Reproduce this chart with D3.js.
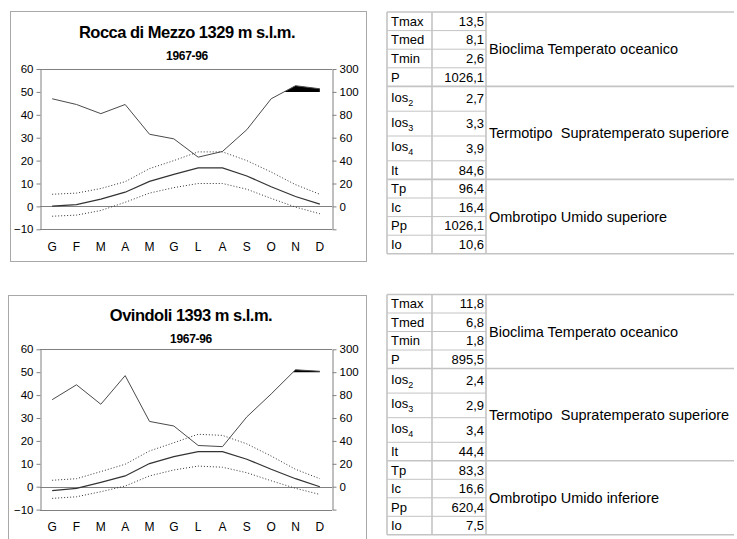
<!DOCTYPE html>
<html>
<head>
<meta charset="utf-8">
<script src="https://cdn.jsdelivr.net/npm/d3@7"></script>
<style>
  body { margin: 0; background: #fff; }
  svg { display: block; font-family: "Liberation Sans", Arial, sans-serif; }
</style>
</head>
<body>
<svg id="c" width="737" height="539"></svg>
<script>
// Months (Italian initials)
const months = ["G", "F", "M", "A", "M", "G", "L", "A", "S", "O", "N", "D"];
const tempTicks = [-10, 0, 10, 20, 30, 40, 50, 60];
const precTicks = [-20, 0, 20, 40, 60, 80, 100, 300];

// Rocca di Mezzo 1329 m s.l.m., 1967-96
const roccaPrec = [94, 89, 81, 89, 63, 59, 43, 48, 67, 94, 154, 127];
const roccaTmax = [5.3, 5.8, 7.8, 10.8, 16.5, 20.0, 23.8, 23.8, 20.0, 15.0, 9.5, 5.3];
const roccaTmed = [0.1, 0.8, 3.2, 6.2, 10.9, 14.0, 16.8, 16.8, 13.3, 8.6, 4.3, 1.0];
const roccaTmin = [-4.3, -3.8, -1.8, 1.8, 5.8, 8.2, 10.0, 10.0, 7.5, 3.5, -0.3, -3.2];

// Ovindoli 1393 m s.l.m., 1967-96
const ovindoliPrec = [76, 89, 72, 97, 57, 53, 36, 35, 61, 81, 121, 108];
const ovindoliTmax = [2.8, 3.5, 6.6, 9.8, 15.6, 19.2, 22.9, 22.4, 18.7, 13.4, 7.6, 3.5];
const ovindoliTmed = [-1.7, -0.7, 1.9, 4.7, 10.1, 13.1, 15.3, 15.3, 12.0, 7.6, 3.5, 0.0];
const ovindoliTmin = [-5.1, -4.4, -2.2, 0.3, 4.7, 7.3, 9.0, 8.5, 6.1, 2.6, -0.7, -3.4];

// Bioclimatic indices
const indexNames = ["Tmax", "Tmed", "Tmin", "P", "Ios2", "Ios3", "Ios4", "It", "Tp", "Ic", "Pp", "Io"];
const roccaIndex = [13.5, 8.1, 2.6, 1026.1, 2.7, 3.3, 3.9, 84.6, 96.4, 16.4, 1026.1, 10.6];
const ovindoliIndex = [11.8, 6.8, 1.8, 895.5, 2.4, 2.9, 3.4, 44.4, 83.3, 16.6, 620.4, 7.5];
const roccaClass = ["Bioclima Temperato oceanico", "Termotipo  Supratemperato superiore", "Ombrotipo Umido superiore"];
const ovindoliClass = ["Bioclima Temperato oceanico", "Termotipo  Supratemperato superiore", "Ombrotipo Umido inferiore"];

const svg = d3.select("#c");
const fmt = d3.formatLocale({ decimal: ",", thousands: "", grouping: [3], currency: ["", ""] }).format(".1f");

// polygon(s) of the part of a polyline lying above a horizontal level (screen coords)
function partsAbove(pts, level) {
  const polys = [];
  let cur = null;
  for (let i = 0; i < pts.length; i++) {
    const [x, y] = pts[i];
    const above = y < level;
    if (i > 0) {
      const [px, py] = pts[i - 1];
      const prevAbove = py < level;
      if (above !== prevAbove) {
        const t = (level - py) / (y - py);
        const xc = px + t * (x - px);
        if (above) { cur = [[xc, level]]; }
        else { cur.push([xc, level]); polys.push(cur); cur = null; }
      }
    } else if (above) {
      cur = [[x, level]];
    }
    if (above) cur.push([x, y]);
  }
  if (cur) { cur.push([pts[pts.length - 1][0], level]); polys.push(cur); }
  return polys;
}

function drawChart(cfg) {
  const g = svg.append("g");
  const axisColor = "#808080";
  const font = "'Liberation Sans', Arial, sans-serif";

  // outer frame
  g.append("rect")
    .attr("x", cfg.box[0] + 0.5).attr("y", cfg.box[1] + 0.5)
    .attr("width", cfg.box[2] - cfg.box[0]).attr("height", cfg.box[3] - cfg.box[1])
    .attr("fill", "none").attr("stroke", "#a8a8a8").attr("stroke-width", 1);

  // titles
  g.append("text").attr("x", cfg.titleX).attr("y", cfg.titleY)
    .attr("text-anchor", "middle").attr("font-weight", "bold").attr("font-size", 16.5)
    .attr("letter-spacing", -0.5).text(cfg.title);
  g.append("text").attr("x", cfg.titleX).attr("y", cfg.titleY + 21.5)
    .attr("text-anchor", "middle").attr("font-weight", "bold").attr("font-size", 12)
    .attr("letter-spacing", -0.3).text(cfg.period);

  const x = d3.scaleBand().domain(d3.range(12)).range([40, 332]);
  const cx = i => x(i) + x.bandwidth() / 2;
  const y = d3.scaleLinear().domain([-10, 60]).range([cfg.plotBottom, cfg.plotTop]);
  // precipitation: 2 mm per °C up to 100 mm, compressed above
  const p = d3.scaleLinear().domain([-20, 0, 100, 300]).range([y(-10), y(0), y(50), y(60)]);

  // plot frame and zero line
  [60, -10, 0].forEach(v => {
    const yy = Math.round(y(v)) + 0.5;
    g.append("line").attr("x1", 40).attr("x2", 332).attr("y1", yy).attr("y2", yy)
      .attr("stroke", axisColor);
  });

  const left = g.append("g").attr("transform", "translate(40.5,0)")
    .call(d3.axisLeft(y).tickValues(tempTicks).tickSize(4).tickPadding(3).tickSizeOuter(0));
  const right = g.append("g").attr("transform", "translate(332.5,0)")
    .call(d3.axisRight(p).tickValues(precTicks).tickSize(4).tickPadding(3).tickSizeOuter(0)
      .tickFormat(d => d < 0 ? "" : d));
  [left, right].forEach(a => {
    a.selectAll("path,line").attr("stroke", axisColor);
    a.selectAll("text").attr("font-size", 11.5).attr("fill", "#000").attr("font-family", font);
  });

  const bottom = g.append("g").attr("transform", `translate(0,${cfg.plotBottom})`)
    .call(d3.axisBottom(x).tickSize(0).tickPadding(13).tickFormat(i => months[i]));
  bottom.select(".domain").remove();
  bottom.selectAll("text").attr("font-size", 12).attr("fill", "#000").attr("font-family", font);

  // months with more than 100 mm: black fill above the 100 mm level
  const pts = cfg.prec.map((d, i) => [cx(i), p(d)]);
  partsAbove(pts, p(100)).forEach(poly => {
    g.append("path").attr("d", d3.line()(poly) + "Z").attr("fill", "#000");
  });

  const line = vals => d3.line().x((d, i) => cx(i)).y(d => y(d))(vals);
  g.append("path").attr("d", d3.line()(pts))
    .attr("fill", "none").attr("stroke", "#4a4a4a").attr("stroke-width", 1);
  g.append("path").attr("d", line(cfg.tmax))
    .attr("fill", "none").attr("stroke", "#333").attr("stroke-width", 1).attr("stroke-dasharray", "1,2");
  g.append("path").attr("d", line(cfg.tmin))
    .attr("fill", "none").attr("stroke", "#333").attr("stroke-width", 1).attr("stroke-dasharray", "1,2");
  g.append("path").attr("d", line(cfg.tmed))
    .attr("fill", "none").attr("stroke", "#333").attr("stroke-width", 1.2);
}

function drawTable(cfg) {
  const g = svg.append("g");
  const x0 = 387, x1 = 432, x2 = 486, x3 = 734;
  // row heights: Ios rows are taller to fit the subscript
  const heights = indexNames.map(n => /^Ios/.test(n) ? cfg.tall : cfg.normal);
  const tops = [];
  let acc = cfg.top;
  heights.forEach(h => { tops.push(acc); acc += h; });
  const bottomY = acc;
  const groups = [[0, 4], [4, 8], [8, 12]];
  const lineColor = "#c4c4c4";

  // inner row lines (first two columns)
  tops.forEach((t, i) => {
    if (i === 0 || i === 4 || i === 8) return;
    g.append("line").attr("x1", x0).attr("x2", x2).attr("y1", t).attr("y2", t)
      .attr("stroke", lineColor).attr("stroke-width", 1);
  });
  // group lines across all columns
  [tops[0], tops[4], tops[8], bottomY].forEach(t => {
    g.append("line").attr("x1", x0).attr("x2", x3).attr("y1", t).attr("y2", t)
      .attr("stroke", lineColor).attr("stroke-width", 1.6);
  });
  // vertical lines
  [x0, x1, x2].forEach(xx => {
    g.append("line").attr("x1", xx).attr("x2", xx).attr("y1", tops[0]).attr("y2", bottomY)
      .attr("stroke", lineColor).attr("stroke-width", 1.6);
  });

  indexNames.forEach((n, i) => {
    const cy = tops[i] + heights[i] / 2;
    const m = n.match(/^(Ios)(\d)$/);
    const t = g.append("text").attr("x", x0 + 4).attr("y", cy + 4.5).attr("font-size", 13);
    if (m) {
      t.attr("y", cy + 3);
      t.append("tspan").text(m[1]);
      t.append("tspan").attr("dy", 4).attr("font-size", 9).text(m[2]);
    } else {
      t.text(n);
    }
    g.append("text").attr("x", x2 - 2).attr("y", cy + 4.5).attr("font-size", 13)
      .attr("text-anchor", "end").text(fmt(cfg.values[i]));
  });

  groups.forEach(([a, b], k) => {
    const cy = (tops[a] + (b < 12 ? tops[b] : bottomY)) / 2;
    g.append("text").attr("x", x2 + 3).attr("y", cy + 5).attr("font-size", 14.5)
      .style("white-space", "pre").text(cfg.classes[k]);
  });
}

drawChart({
  id: 1, title: "Rocca di Mezzo 1329 m s.l.m.", period: "1967-96",
  box: [10, 11, 366, 261], titleX: 187, titleY: 38,
  plotTop: 69, plotBottom: 229.3,
  prec: roccaPrec, tmax: roccaTmax, tmed: roccaTmed, tmin: roccaTmin
});
drawChart({
  id: 2, title: "Ovindoli 1393 m s.l.m.", period: "1967-96",
  box: [8, 295, 366, 560], titleX: 191, titleY: 321,
  plotTop: 349.3, plotBottom: 509.6,
  prec: ovindoliPrec, tmax: ovindoliTmax, tmed: ovindoliTmed, tmin: ovindoliTmin
});

drawTable({ top: 12, normal: 18.6, tall: 24.8, values: roccaIndex, classes: roccaClass });
drawTable({ top: 294.5, normal: 18.5, tall: 24.6, values: ovindoliIndex, classes: ovindoliClass });
</script>
</body>
</html>
